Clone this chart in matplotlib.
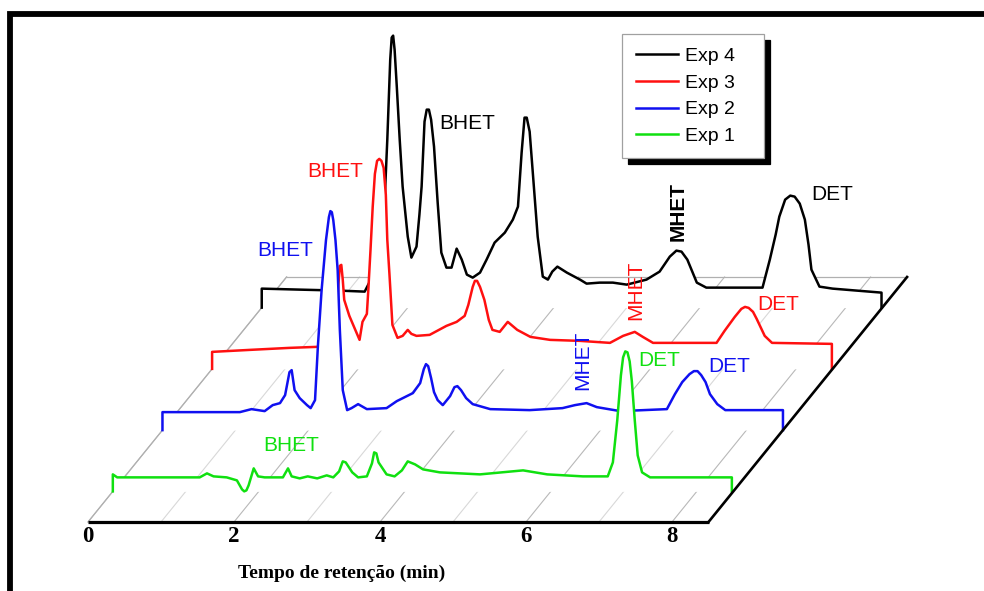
import numpy as np
import matplotlib
matplotlib.use("Agg")
import matplotlib.pyplot as plt
from matplotlib.lines import Line2D
from matplotlib.patches import Rectangle

# ---------------------------------------------------------------------------
# HPLC chromatograms: retention time (min) and detector signal (a.u.)
# ---------------------------------------------------------------------------
exp1_time = [0.00, 0.06, 1.19, 1.29, 1.38, 1.56, 1.70, 1.77, 1.80, 1.83, 1.86,
             1.93, 1.99, 2.08, 2.33, 2.40, 2.45, 2.56, 2.67, 2.80, 2.93, 3.02,
             3.10, 3.15, 3.19, 3.28, 3.36, 3.48, 3.55, 3.58, 3.61, 3.64, 3.75,
             3.86, 3.96, 4.04, 4.14, 4.25, 4.48, 5.03, 5.62, 5.95, 6.44, 6.78,
             6.85, 6.91, 6.96, 6.99, 7.02, 7.05, 7.08, 7.11, 7.15, 7.19, 7.25,
             7.36, 8.04, 8.48]
exp1_signal = [17, 14, 14, 18, 15, 14, 11, 2, 0, 1, 6,
               23, 15, 14, 14, 23, 15, 13, 15, 13, 16, 14,
               20, 30, 29, 19, 14, 15, 28, 39, 38, 29, 17,
               15, 21, 30, 27, 22, 19, 17, 21, 17, 15, 15,
               29, 71, 116, 134, 140, 139, 130, 110, 71, 36, 19,
               14, 14, 14]

exp2_time = [0.00, 1.06, 1.22, 1.40, 1.51, 1.61, 1.68, 1.74, 1.77, 1.81, 1.88,
             1.98, 2.03, 2.09, 2.13, 2.18, 2.24, 2.28, 2.30, 2.32, 2.34, 2.37,
             2.40, 2.43, 2.47, 2.53, 2.59, 2.68, 2.80, 3.07, 3.21, 3.43, 3.53,
             3.58, 3.61, 3.64, 3.68, 3.72, 3.77, 3.84, 3.94, 4.00, 4.04, 4.09,
             4.16, 4.25, 4.49, 5.03, 5.48, 5.65, 5.81, 5.95, 6.27, 6.91, 7.02,
             7.12, 7.22, 7.28, 7.33, 7.38, 7.44, 7.50, 7.60, 7.71, 8.50]
exp2_signal = [18, 18, 21, 19, 25, 27, 35, 58, 60, 40, 32,
               25, 22, 30, 85, 140, 190, 213, 219, 218, 210, 190,
               160, 100, 40, 20, 22, 26, 21, 22, 29, 37, 47,
               61, 66, 64, 52, 38, 30, 25, 34, 43, 44, 40,
               32, 26, 21, 20, 22, 25, 27, 23, 19, 21, 36,
               48, 56, 59, 59, 55, 48, 36, 26, 20, 20]

exp3_time = [0.00, 0.52, 1.06, 1.43, 1.67, 1.71, 1.73, 1.75, 1.77, 1.79, 1.81,
             1.88, 1.95, 2.02, 2.06, 2.12, 2.14, 2.17, 2.20, 2.23, 2.26, 2.29,
             2.32, 2.35, 2.38, 2.40, 2.43, 2.47, 2.54, 2.61, 2.68, 2.73, 2.80,
             2.98, 3.21, 3.35, 3.46, 3.51, 3.57, 3.60, 3.63, 3.67, 3.73, 3.79,
             3.84, 3.94, 4.05, 4.18, 4.36, 4.63, 5.04, 5.45, 5.63, 5.79, 5.90,
             6.04, 6.91, 7.02, 7.16, 7.25, 7.30, 7.35, 7.41, 7.46, 7.57, 7.67,
             8.49]
exp3_signal = [17, 19, 21, 22, 24, 49, 84, 103, 104, 89, 69,
               53, 41, 29, 47, 55, 79, 119, 162, 195, 208, 210,
               208, 201, 174, 129, 94, 44, 31, 33, 39, 35, 33,
               34, 43, 47, 53, 64, 82, 88, 88, 82, 69, 49,
               39, 37, 47, 39, 32, 29, 28, 26, 33, 37, 32,
               26, 26, 38, 52, 60, 62, 61, 57, 50, 33, 26,
               25]

exp4_time = [0.00, 0.52, 1.07, 1.41, 1.48, 1.59, 1.68, 1.72, 1.76, 1.78, 1.80,
             1.82, 1.85, 1.89, 1.93, 2.00, 2.05, 2.12, 2.16, 2.19, 2.23, 2.26,
             2.29, 2.32, 2.36, 2.41, 2.46, 2.53, 2.60, 2.67, 2.74, 2.81, 2.89,
             2.99, 3.08, 3.19, 3.33, 3.44, 3.51, 3.56, 3.60, 3.63, 3.67, 3.71,
             3.78, 3.85, 3.92, 3.98, 4.05, 4.18, 4.36, 4.45, 4.63, 4.81, 5.00,
             5.27, 5.45, 5.59, 5.68, 5.75, 5.83, 5.96, 6.09, 6.86, 6.96, 7.04,
             7.09, 7.17, 7.24, 7.30, 7.37, 7.44, 7.49, 7.53, 7.64, 7.82, 8.49]
exp4_signal = [19, 18, 17, 16, 26, 58, 101, 168, 248, 270, 272,
               258, 221, 168, 121, 71, 50, 61, 93, 121, 186, 198,
               198, 188, 161, 105, 55, 40, 40, 59, 48, 33, 30,
               35, 48, 65, 75, 88, 101, 155, 190, 190, 176, 138,
               71, 31, 28, 36, 41, 35, 28, 24, 25, 25, 23,
               28, 36, 51, 57, 56, 48, 25, 20, 20, 48, 73,
               91, 108, 112, 111, 104, 88, 63, 38, 21, 19, 15]

experiments = ["Exp 1", "Exp 2", "Exp 3", "Exp 4"]
exp_colors = ["#10e010", "#1010f0", "#ff1010", "#000000"]
series_time = [exp1_time, exp2_time, exp3_time, exp4_time]
series_signal = [exp1_signal, exp2_signal, exp3_signal, exp4_signal]

# position of each chromatogram along the depth axis of the waterfall
exp_depth = [0.5, 1.5, 2.5, 3.5]

# time axis ticks
tick_values = [0, 2, 4, 6, 8]
time_max = 8.5
depth_max = 4.0

# peak labels: (text, experiment index, time, signal, rotation, bold)
peak_labels = [
    ("BHET", 3, 2.81, 184, 0, False),
    ("BHET", 2, 1.68, 197, 0, False),
    ("BHET", 1, 1.68, 180, 0, False),
    ("BHET", 0, 2.44, 46, 0, False),
    ("MHET", 3, 5.71, 96, 90, True),
    ("MHET", 2, 5.80, 79, 90, False),
    ("MHET", 1, 5.76, 70, 90, False),
    ("DET", 3, 7.81, 113, 0, False),
    ("DET", 2, 7.76, 64, 0, False),
    ("DET", 0, 7.48, 131, 0, False),
    ("DET", 1, 7.76, 64, 0, False),
]

# oblique projection of the depth axis onto the page
DEPTH_DX = 0.68    # minutes shifted per depth unit
DEPTH_DY = 61.25   # signal units raised per depth unit


def project(t, s, d):
    return np.asarray(t, dtype=float) + d * DEPTH_DX, np.asarray(s, dtype=float) + d * DEPTH_DY


fig = plt.figure(figsize=(9.84, 5.91), dpi=100)
fig.patch.set_facecolor("white")
ax = fig.add_axes([0, 0, 1, 1])
ax.set_xlim(-88 / 73, 896 / 73)
ax.set_ylim(-69, 522)
ax.axis("off")

# floor grid: one line per minute running into the depth
for t in range(0, 9):
    gx, gy = project([t, t], [0, 0], np.array([0.0, depth_max]))
    ax.plot(gx, gy, color="#b8b8b8" if t % 2 == 0 else "#d8d8d8", lw=0.8, zorder=1)

# back and left edges of the floor
bx, by = project([0, time_max], [0, 0], depth_max)
ax.plot(bx, by, color="#b0b0b0", lw=0.9, zorder=1)
lx, ly = project([0, 0], [0, 0], np.array([0.0, depth_max]))
ax.plot(lx, ly, color="#b0b0b0", lw=0.9, zorder=1)

# chromatograms from back to front, each masking what lies behind it
for i in [3, 2, 1, 0]:
    d = exp_depth[i]
    t = np.concatenate([[series_time[i][0]], series_time[i], [series_time[i][-1]]])
    s = np.concatenate([[0], series_signal[i], [0]])
    px, py = project(t, s, d)
    z = 2 + (3 - i)
    ax.fill_between(px, d * DEPTH_DY, py, color="white", lw=0, zorder=z)
    ax.plot(px, py, color=exp_colors[i], lw=1.8, zorder=z + 0.1,
            solid_joinstyle="round")

# front time axis and right edge of the floor
fx, fy = project([0, time_max], [0, 0], 0)
ax.plot(fx, fy, color="black", lw=2.3, zorder=8, solid_capstyle="butt")
rx, ry = project([time_max, time_max], [0, 0], np.array([0.0, depth_max]))
ax.plot(rx, ry, color="black", lw=1.9, zorder=8)

for t in tick_values:
    ax.text(t, -15, str(t), ha="center", va="center", fontsize=16.5,
            fontfamily="Liberation Serif", fontweight="bold", zorder=9)
ax.text(3.47, -51, "Tempo de retenção (min)", ha="center", va="center",
        fontsize=14, fontfamily="Liberation Serif", fontweight="bold", zorder=9)

# peak annotations
for text, i, t, s, rot, bold in peak_labels:
    x, y = project(t, s, exp_depth[i])
    ax.text(x, y, text, color=exp_colors[i], fontsize=15, rotation=rot,
            fontfamily="Liberation Sans", fontweight="bold" if bold else "normal",
            ha="center", va="center", zorder=9)

# legend, latest experiment first
handles = [Line2D([], [], color=exp_colors[i], lw=1.8) for i in [3, 2, 1, 0]]
labels = [experiments[i] for i in [3, 2, 1, 0]]
leg = ax.legend(handles, labels, loc="upper left",
                bbox_to_anchor=(622 / 984, 1 - 34 / 591, 142 / 984, 0.0),
                mode="expand", borderaxespad=0, fancybox=False,
                shadow={"ox": 4.3, "oy": -4.3, "color": "black", "alpha": 1},
                edgecolor="#a0a0a0", framealpha=1,
                prop={"family": "Liberation Sans", "size": 14},
                handlelength=2.2, handletextpad=0.35, labelspacing=0.46,
                borderpad=0.7)
leg.get_frame().set_linewidth(0.9)
leg.set_zorder(20)

# heavy frame along the top and left of the figure
fig.add_artist(Rectangle((10.3 / 984, -0.2), 1.5, 1.2 - 13.8 / 591, fill=False,
                         ec="black", lw=4.2, transform=fig.transFigure))

fig.savefig("out.png", dpi=100, facecolor="white")
